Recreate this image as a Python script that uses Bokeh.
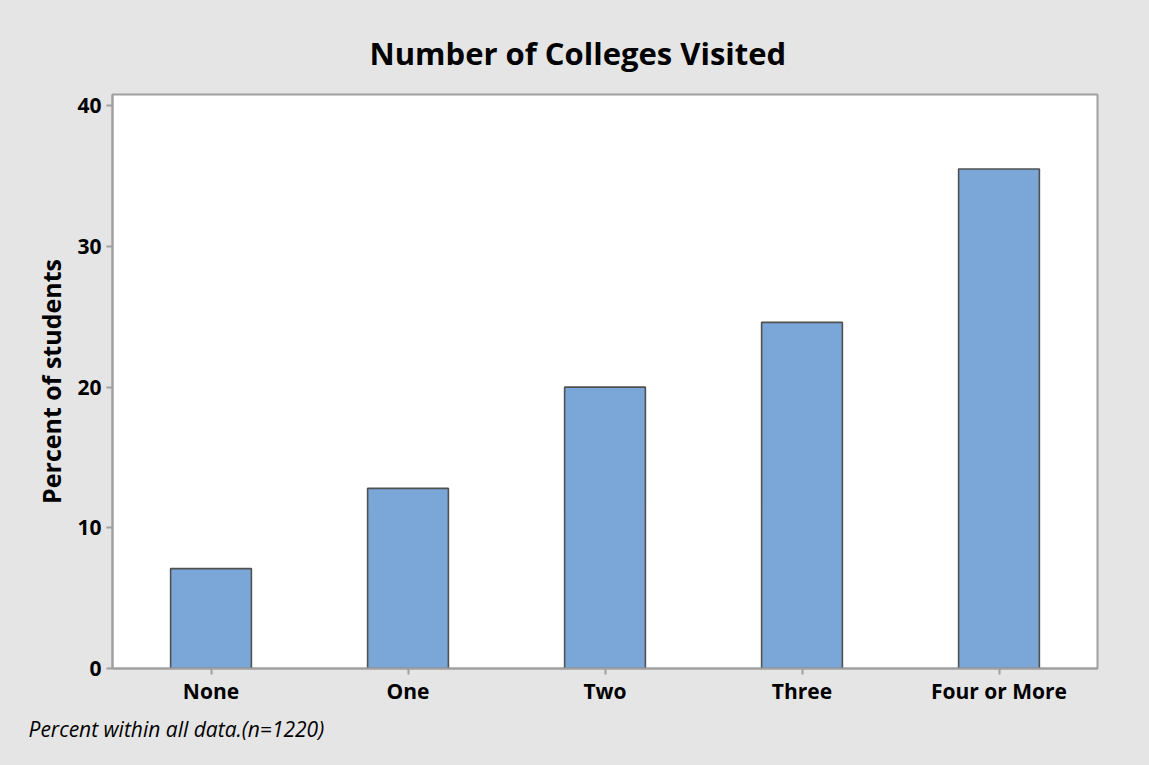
from bokeh.plotting import figure
from bokeh.models import Range1d, FactorRange, Title, FixedTicker
from bokeh.embed import file_html
from bokeh.resources import INLINE

categories = ["None", "One", "Two", "Three", "Four or More"]
percents = [7.1, 12.8, 20.0, 24.6, 35.5]
y_ticks = [0, 10, 20, 30, 40]
title_text = "Number of Colleges Visited"
y_label = "Percent of students"
footnote = "Percent within all data.(n=1220)"

FONT = "Open Sans"
BG = "#e5e5e5"
W, H = 1133, 749
B_LEFT, B_RIGHT, B_TOP, B_BOTTOM = 112, 36, 94, 81

p = figure(x_range=FactorRange(*categories), y_range=Range1d(0, 40.8),
           width=W, height=H, output_backend="svg", toolbar_location=None,
           min_border_left=B_LEFT, min_border_right=B_RIGHT,
           min_border_top=B_TOP, min_border_bottom=B_BOTTOM)

p.vbar(x=categories, top=percents, width=0.41, bottom=0,
       fill_color="#7ba7d8", line_color="#505050", line_width=1.6)

p.background_fill_color = "white"
p.border_fill_color = BG
p.outline_line_color = "#a0a0a0"
p.outline_line_width = 2
p.xgrid.visible = False
p.ygrid.visible = False

for ax in (p.xaxis, p.yaxis):
    ax.axis_line_color = "#a0a0a0"
    ax.axis_line_width = 2
    ax.major_tick_line_color = "#a0a0a0"
    ax.major_tick_line_width = 2
    ax.major_tick_in = 0
    ax.major_tick_out = 6
    ax.minor_tick_line_color = None
    ax.major_label_text_font = FONT
    ax.major_label_text_font_style = "bold"
    ax.major_label_text_font_size = "21px"
    ax.major_label_text_color = "black"

p.yaxis.ticker = FixedTicker(ticks=y_ticks)
p.yaxis.major_label_standoff = 5
p.xaxis.major_label_standoff = 2
p.yaxis.axis_label = y_label
p.yaxis.axis_label_text_font = FONT
p.yaxis.axis_label_text_font_style = "bold"
p.yaxis.axis_label_text_font_size = "25px"
p.yaxis.axis_label_text_color = "black"
p.yaxis.axis_label_standoff = 6

p.title = Title(text=title_text, align="left", offset=257, standoff=42,
                text_font=FONT, text_font_style="bold",
                text_font_size="31px", text_color="black")
p.add_layout(Title(text=footnote, align="left", offset=-84, standoff=11,
                   text_font=FONT, text_font_style="italic",
                   text_font_size="21px", text_color="black"), "below")

html = file_html(p, INLINE)
html = html.replace("<html", '<html style="background:%s;"' % BG, 1)
html = html.replace("<body>", '<body style="background:%s;">' % BG, 1)
open("out.html", "w").write(html)
